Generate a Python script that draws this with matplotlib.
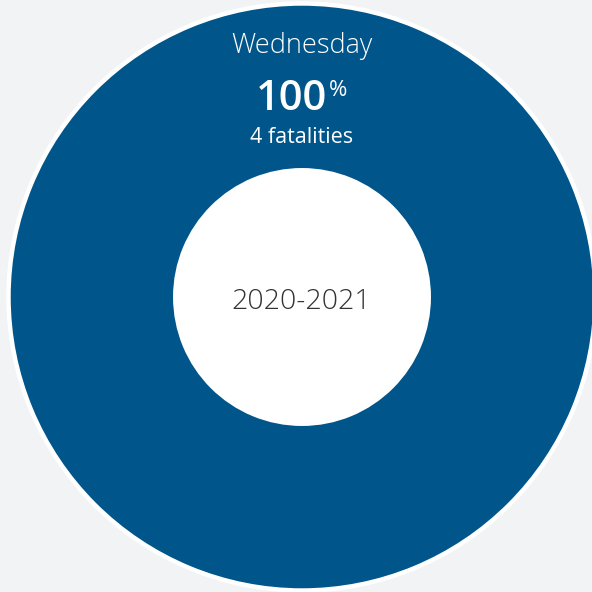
import matplotlib.pyplot as plt
from matplotlib.patches import Circle

# data
categories = ["Wednesday"]
fatalities = [4]
period = "2020-2021"

BLUE = "#00568a"
BG = "#f1f3f5"
FONT = ["Open Sans", "DejaVu Sans"]

fig = plt.figure(figsize=(5.92, 5.92), dpi=100, facecolor=BG)
ax = fig.add_axes([0, 0, 1, 1])
ax.set_facecolor(BG)

cx, cy = 302, 297
outer_r = 293.5
inner_r = 126.75

ax.pie(
    fatalities,
    colors=[BLUE],
    radius=outer_r,
    center=(cx, cy),
    startangle=90,
    counterclock=False,
    wedgeprops=dict(width=outer_r - inner_r, edgecolor="white", linewidth=3.2),
    frame=True,
)
ax.add_patch(Circle((cx, cy), inner_r + 0.5, facecolor="white", edgecolor="none", zorder=3))

ax.set_xlim(0, 592)
ax.set_ylim(592, 0)
ax.set_aspect("equal")
ax.axis("off")

total = sum(fatalities)
share = 100 * fatalities[0] / total

ax.text(cx, 53, categories[0], ha="center", va="baseline", color="white",
        fontsize=19.5, fontweight="light", family=FONT, zorder=4)
ax.text(327, 110, f"{share:.0f}", ha="right", va="baseline", color="white",
        fontsize=30, fontweight="semibold", family=FONT, zorder=4)
ax.text(329, 80, "%", ha="left", va="top", color="white",
        fontsize=16, family=FONT, zorder=4)
ax.text(cx, 143, f"{fatalities[0]} fatalities", ha="center", va="baseline", color="white",
        fontsize=15.5, family=FONT, zorder=4)
ax.text(301, 309, period, ha="center", va="baseline", color="#333333",
        fontsize=20.5, fontweight="light", family=FONT, zorder=4)

fig.savefig("out.png", dpi=100, facecolor=BG)
